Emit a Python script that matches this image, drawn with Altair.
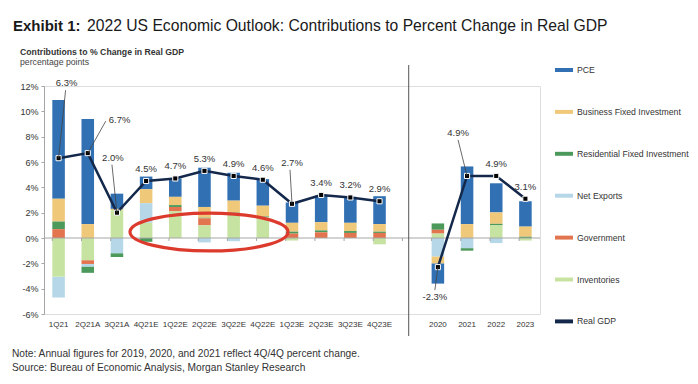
import altair as alt
import pandas as pd

FONT = "Liberation Sans"

# ---------------- data ----------------
quarters = ["1Q21", "2Q21A", "3Q21A", "4Q21E", "1Q22E", "2Q22E", "3Q22E", "4Q22E",
            "1Q23E", "2Q23E", "3Q23E", "4Q23E"]
years = ["2020", "2021", "2022", "2023"]
GAP = "gap"
categories = quarters + [GAP] + years
periods = quarters + years

components = ["PCE", "Business Fixed Investment", "Residential Fixed Investment",
              "Net Exports", "Government", "Inventories"]
colors = ["#3070b3", "#f0c87a", "#4b9a5c", "#b5d7e7", "#e2754f", "#c6e3a1", "#14284b"]

#            1Q21  2Q21A 3Q21A 4Q21E 1Q22E 2Q22E 3Q22E 4Q22E 1Q23E 2Q23E 3Q23E 4Q23E | 2020  2021  2022  2023
pce =       [7.8,  8.3,  1.2,  1.0,  1.45, 3.1,  2.2,  2.1,  1.6,  2.1,  2.05, 2.2,   -1.6, 4.55, 2.3,  2.0]
bfi =       [1.8,  1.1,  0.1,  1.1,  0.65, 0.85, 0.95, 0.85, 0.7,  0.65, 0.65, 0.6,   -0.55, 1.1, 0.9,  0.8]
rfi =       [0.6, -0.5, -0.3, -0.3,  0.15, 0.05, 0.05, 0.05, 0.15, 0.15, 0.15, 0.1,    0.5, -0.2, 0.12, 0.1]
net_exp =   [-1.65, -0.2, -1.2, 1.55, 0.0, -0.35, -0.25, 0.0, 0.0,  0.0,  0.0,  0.0,  -1.45, -0.8, -0.4, 0.0]
gov =       [0.7, -0.3,  0.0,  0.0,  0.35, 0.55, 0.0,  0.0,  0.35, 0.45, 0.4,  0.4,    0.3,  0.0,  0.0,  0.0]
inv =       [-3.05, -1.75, 2.2, 1.2, 2.1,  1.0,  1.95, 1.65, -0.2, 0.0,  0.0, -0.5,    0.35, 0.0,  1.0, -0.2]

real_gdp_q = [6.3, 6.7, 2.0, 4.5, 4.7, 5.3, 4.9, 4.6, 2.7, 3.4, 3.2, 2.9]
real_gdp_a = [-2.3, 4.9, 4.9, 3.1]

y_ticks = [-6, -4, -2, 0, 2, 4, 6, 8, 10, 12]

series = dict(zip(components, [pce, bfi, rfi, net_exp, gov, inv]))
stack_rank = {"Inventories": 0, "Government": 1, "Net Exports": 2,
              "Residential Fixed Investment": 3, "Business Fixed Investment": 4, "PCE": 5}

rows = []
for comp, vals in series.items():
    for cat, v in zip(periods, vals):
        rows.append({"cat": cat, "component": comp, "value": v, "rank": stack_rank[comp]})
bars_df = pd.DataFrame(rows)

line_df = pd.DataFrame({
    "cat": quarters + years,
    "value": real_gdp_q + real_gdp_a,
    "grp": ["q"] * len(quarters) + ["a"] * len(years),
})
line_df["label"] = line_df["value"].map(lambda v: f"{v:.1f}%")

cat_df = pd.DataFrame({"cat": categories, "value": [0.0] * len(categories)})

# label placements for the leader-lined labels: (text dx, text dy, align, leader end dx, leader end dy)
special = {
    "1Q21": (8, -75, "center", 7, -68),
    "2Q21A": (21, -33, "left", 18, -32),
    "3Q21A": (-4, -55, "center", -5, -48),
    "1Q23E": (0, -41, "center", -2, -34),
    "2021": (-9, -43, "center", -9, -36),
    "2020": (-3, 30, "center", -3, 23),
}

# ---------------- chart ----------------
x_scale = alt.Scale(domain=categories, paddingInner=0.57, paddingOuter=0.285)
y_scale = alt.Scale(domain=[-6, 12], nice=False)

x_axis = alt.Axis(title=None, domain=False, ticks=False, labelAngle=0,
                  labelExpr="datum.label == 'gap' ? '' : datum.label",
                  labelFontSize=8, labelColor="#333", labelPadding=6)
y_axis = alt.Axis(title=None, values=y_ticks, labelExpr="datum.value + '%'",
                  grid=False, domainColor="#a6a6a6", tickColor="#a6a6a6", tickSize=3,
                  labelFontSize=9, labelColor="#333", labelPadding=3)

xenc = alt.X("cat:N", scale=x_scale, sort=categories, axis=x_axis)
yenc = alt.Y("value:Q", scale=y_scale, axis=y_axis)

legend_items = components + ["Real GDP"]

bars = alt.Chart(bars_df).mark_bar().encode(
    x=xenc,
    y=alt.Y("value:Q", scale=y_scale, stack="zero", axis=y_axis),
    color=alt.Color("component:N", scale=alt.Scale(domain=legend_items, range=colors),
                    legend=alt.Legend(title=None, orient="none", legendX=511, legendY=-25,
                                      symbolType="M-1,-0.22H1V0.22H-1Z", symbolSize=324,
                                      symbolStrokeWidth=0, labelFontSize=8.7, labelColor="#333",
                                      rowPadding=27.9, padding=0, labelOffset=4)),
    order=alt.Order("rank:Q", sort="ascending"),
)

zero_line = alt.Chart(cat_df).mark_rule(color="#a6a6a6", strokeWidth=1).encode(
    y=alt.Y("value:Q", scale=y_scale, axis=y_axis, aggregate="min"))

zero_ticks = alt.Chart(cat_df).mark_rule(color="#a6a6a6", strokeWidth=1, y2Offset=3).encode(
    x=alt.X("cat:N", scale=x_scale, sort=categories, axis=x_axis, bandPosition=0),
    y=yenc, y2=alt.Y2("value"))

separator = alt.Chart(cat_df).transform_filter(alt.datum.cat == GAP).mark_rule(
    color="#555", strokeWidth=1).encode(x=xenc, y=alt.value(-21), y2=alt.value(250))

gdp_line = alt.Chart(line_df).mark_line(color="#14284b", strokeWidth=2.5).encode(
    x=xenc, y=yenc, detail="grp:N")
gdp_pts = alt.Chart(line_df).mark_point(shape="square", filled=True, size=26, color="#000",
                                        stroke="#fff", strokeWidth=1, opacity=1).encode(x=xenc, y=yenc)

normal_labels = alt.Chart(line_df).transform_filter(
    ~alt.FieldOneOfPredicate(field="cat", oneOf=list(special.keys()))
).mark_text(dy=-12, fontSize=9.5, color="#333").encode(x=xenc, y=yenc, text="label:N")

leader_layers = []
for cat, (tdx, tdy, al, ldx, ldy) in special.items():
    leader_layers.append(
        alt.Chart(line_df).transform_filter(alt.datum.cat == cat)
        .mark_rule(color="#444", strokeWidth=0.8, x2Offset=ldx, y2Offset=ldy)
        .encode(x=xenc, y=yenc, x2=alt.X2("cat"), y2=alt.Y2("value"))
    )
    leader_layers.append(
        alt.Chart(line_df).transform_filter(alt.datum.cat == cat)
        .mark_text(dx=tdx, dy=tdy, align=al, fontSize=9.5, color="#333")
        .encode(x=xenc, y=yenc, text="label:N")
    )

one = pd.DataFrame({"k": [0]})
ellipse = alt.Chart(one).mark_point(
    shape="M-1,0A1,0.24 0 1,1 1,0A1,0.24 0 1,1 -1,0Z", size=24964, filled=False,
    stroke="#dc3a2c", strokeWidth=3.2, opacity=1,
).encode(x=alt.value(165), y=alt.value(146))


def txt(s, x, y, size, weight="normal", baseline="alphabetic", color="#222"):
    return alt.Chart(one).mark_text(align="left", baseline=baseline, fontSize=size,
                                    fontWeight=weight, color=color, font=FONT).encode(
        x=alt.value(x), y=alt.value(y), text=alt.value(s))


texts = [
    txt("Exhibit 1:", -31, -55, 15, "bold", color="#1a1a1a"),
    txt("2022 US Economic Outlook: Contributions to Percent Change in Real GDP", 43, -55, 15.7, color="#1a1a1a"),
    txt("Contributions  to % Change in Real GDP", -24, -34, 8.7, "bold", "middle", "#333"),
    txt("percentage points", -24, -24.5, 8.7, "normal", "middle", "#444"),
    txt("Note: Annual figures for 2019, 2020, and 2021 reflect 4Q/4Q percent change.", -32, 268, 10.2, "normal", "middle", "#333"),
    txt("Source: Bureau of Economic Analysis, Morgan Stanley Research", -32, 282, 10.2, "normal", "middle", "#333"),
]

chart = alt.layer(
    bars, zero_line, zero_ticks, separator, gdp_line, gdp_pts, normal_labels,
    *leader_layers, ellipse, *texts
).properties(
    width=496, height=228,
    autosize=alt.AutoSizeParams(type="none"),
    padding={"left": 36, "top": 78, "right": 150, "bottom": 62},
).configure_view(stroke=None).configure(font=FONT)

chart.save("out.html", embed_options={"renderer": "svg", "actions": False})
